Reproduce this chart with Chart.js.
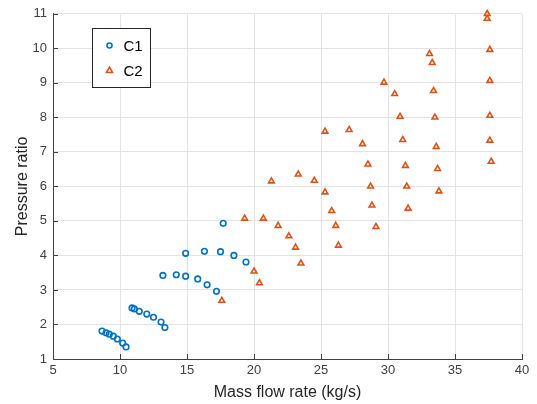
<!DOCTYPE html>
<html>
<head>
<meta charset="utf-8">
<script src="https://cdn.jsdelivr.net/npm/chart.js@4.4.0/dist/chart.umd.min.js"></script>
<style>
  html, body { margin: 0; padding: 0; background: #fff; }
  #wrap { width: 537px; height: 404px; }
</style>
</head>
<body>
<div id="wrap"><canvas id="mapa" width="537" height="404"></canvas></div>
<script>
// Compressor C1 operating points
const c1Flow  = [8.66, 8.96, 9.2, 9.5, 9.8, 10.2, 10.45,
                 10.9, 11.07, 11.44, 12.0, 12.5, 13.06, 13.35,
                 13.2, 14.2, 14.9, 15.8, 16.5, 17.2,
                 14.9, 16.3, 17.5, 18.5, 19.4,
                 17.7];
const c1Ratio = [1.81, 1.76, 1.72, 1.66, 1.58, 1.46, 1.35,
                 2.48, 2.45, 2.38, 2.30, 2.21, 2.07, 1.91,
                 3.42, 3.44, 3.40, 3.32, 3.15, 2.96,
                 4.06, 4.12, 4.11, 4.00, 3.81,
                 4.93];

// Compressor C2 operating points
const c2Flow  = [17.6, 20.0, 20.4,
                 19.3, 20.7, 21.8, 22.6, 23.1, 23.5,
                 21.3, 23.3, 24.5, 25.3, 25.8, 26.1, 26.3,
                 25.3, 27.1, 28.1, 28.5, 28.7, 28.8, 29.1,
                 29.7, 30.5, 30.9, 31.1, 31.3, 31.4, 31.5,
                 33.1, 33.3, 33.4, 33.5, 33.6, 33.7, 33.8,
                 37.4, 37.4, 37.6, 37.6, 37.6, 37.6, 37.7];
const c2Ratio = [2.69, 3.54, 3.20,
                 5.07, 5.07, 4.86, 4.56, 4.23, 3.77,
                 6.15, 6.35, 6.17, 5.83, 5.29, 4.86, 4.29,
                 7.59, 7.64, 7.23, 6.64, 6.00, 5.45, 4.83,
                 9.01, 8.68, 8.02, 7.35, 6.60, 6.00, 5.36,
                 9.84, 9.58, 8.77, 8.00, 7.15, 6.51, 5.86,
                 11.0, 10.86, 9.96, 9.06, 8.05, 7.33, 6.72];

const xTicks = [5, 10, 15, 20, 25, 30, 35, 40];
const yTicks = [1, 2, 3, 4, 5, 6, 7, 8, 9, 10, 11];

const azul = '#0072BD';
const naranja = '#D95319';
const ejeColor = '#404040';
const fuente = '"Liberation Sans", Arial, sans-serif';

function puntos(xs, ys) {
    return xs.map((x, i) => ({ x: x, y: ys[i] }));
}

// Ticks pointing into the plot area and the boxed legend in the upper left
const decoraciones = {
    id: 'decoraciones',
    afterDatasetsDraw(chart) {
        const ctx = chart.ctx;
        const area = chart.chartArea;
        const sx = chart.scales.x, sy = chart.scales.y;
        ctx.save();
        ctx.strokeStyle = ejeColor;
        ctx.lineWidth = 1;
        ctx.beginPath();
        xTicks.forEach(v => {
            const px = Math.round(sx.getPixelForValue(v)) + 0.5;
            ctx.moveTo(px, area.bottom);
            ctx.lineTo(px, area.bottom - 5);
        });
        yTicks.forEach(v => {
            const py = Math.round(sy.getPixelForValue(v)) + 0.5;
            ctx.moveTo(area.left, py);
            ctx.lineTo(area.left + 5, py);
        });
        ctx.stroke();

        // legend box
        const bx = 92.5, by = 28.5, bw = 58, bh = 59;
        ctx.fillStyle = '#fff';
        ctx.fillRect(bx, by, bw, bh);
        ctx.strokeStyle = '#262626';
        ctx.strokeRect(bx, by, bw, bh);
        ctx.font = '15px ' + fuente;
        ctx.textBaseline = 'middle';
        chart.data.datasets.forEach((ds, i) => {
            const cy = by + 17 + i * 25;
            const cx = bx + 17;
            const r = ds.pointRadius;
            ctx.strokeStyle = ds.borderColor;
            ctx.lineWidth = ds.borderWidth;
            ctx.beginPath();
            if (ds.pointStyle === 'circle') {
                ctx.arc(cx, cy, r * 0.9, 0, Math.PI * 2);
            } else {
                ctx.moveTo(cx, cy - r);
                ctx.lineTo(cx + r * 0.9, cy + r * 0.6);
                ctx.lineTo(cx - r * 0.9, cy + r * 0.6);
                ctx.closePath();
            }
            ctx.stroke();
            ctx.fillStyle = '#000';
            ctx.fillText(ds.label, bx + 31, cy + 1);
        });
        ctx.restore();
    }
};

const ctx = document.getElementById('mapa').getContext('2d');
new Chart(ctx, {
    type: 'scatter',
    data: {
        datasets: [{
            label: 'C1',
            data: puntos(c1Flow, c1Ratio),
            pointStyle: 'circle',
            pointRadius: 2.8,
            borderWidth: 1.6,
            borderColor: azul,
            backgroundColor: 'rgba(255,255,255,0)',
            clip: false
        }, {
            label: 'C2',
            data: puntos(c2Flow, c2Ratio),
            pointStyle: 'triangle',
            pointRadius: 3.3,
            borderWidth: 1.6,
            borderColor: naranja,
            backgroundColor: 'rgba(255,255,255,0)',
            clip: false
        }]
    },
    options: {
        responsive: false,
        animation: false,
        layout: { padding: { left: 0, right: 15, top: 13, bottom: 0 } },
        plugins: {
            legend: { display: false },
            tooltip: { enabled: false }
        },
        scales: {
            x: {
                type: 'linear',
                min: 5, max: 40,
                afterBuildTicks: s => { s.ticks = xTicks.map(v => ({ value: v })); },
                afterFit: s => { s.height = 45; },
                ticks: { color: ejeColor, font: { family: fuente, size: 13 }, padding: 4, maxRotation: 0 },
                grid: { color: '#e3e3e3', drawTicks: false },
                border: { color: ejeColor, width: 1 },
                title: {
                    display: true,
                    text: 'Mass flow rate (kg/s)',
                    color: '#262626',
                    font: { family: fuente, size: 16 },
                    padding: { top: 0, bottom: 2 }
                }
            },
            y: {
                type: 'linear',
                min: 1, max: 11,
                afterBuildTicks: s => { s.ticks = yTicks.map(v => ({ value: v })); },
                afterFit: s => { s.width = 53; },
                ticks: { color: ejeColor, font: { family: fuente, size: 13 }, padding: 6 },
                grid: { color: '#e3e3e3', drawTicks: false },
                border: { color: ejeColor, width: 1 },
                title: {
                    display: true,
                    text: 'Pressure ratio',
                    color: '#262626',
                    font: { family: fuente, size: 16 },
                    padding: { top: 13, bottom: 0 }
                }
            }
        }
    },
    plugins: [decoraciones]
});
</script>
</body>
</html>
